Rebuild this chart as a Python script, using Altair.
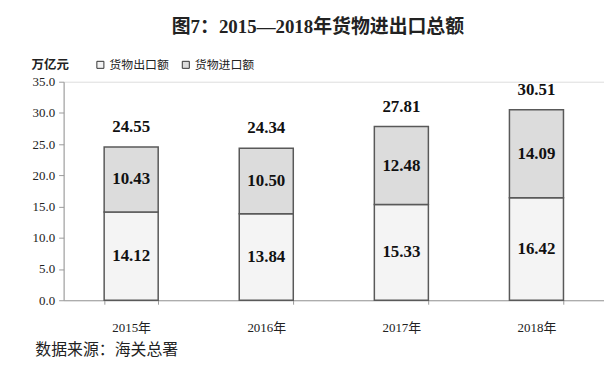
import altair as alt
import pandas as pd

years = ["2015年", "2016年", "2017年", "2018年"]
exports = [14.12, 13.84, 15.33, 16.42]
imports = [10.43, 10.50, 12.48, 14.09]
totals = [24.55, 24.34, 27.81, 30.51]
series = ["货物出口额", "货物进口额"]

rows = []
for i, y in enumerate(years):
    rows.append({"year": y, "type": series[0], "value": exports[i], "ord": 0,
                 "mid": exports[i] / 2, "label": f"{exports[i]:.2f}"})
    rows.append({"year": y, "type": series[1], "value": imports[i], "ord": 1,
                 "mid": exports[i] + imports[i] / 2, "label": f"{imports[i]:.2f}"})
df = pd.DataFrame(rows)
tot = pd.DataFrame({"year": years, "total": totals,
                    "label": [f"{t:.2f}" for t in totals]})

SERIF = "Liberation Serif, Noto Sans CJK SC"
CJK = "Noto Sans CJK SC"

xenc = alt.X("year:N", sort=years,
             scale=alt.Scale(paddingInner=0.6, paddingOuter=0.3),
             axis=alt.Axis(title="数据来源：海关总署", titleAnchor="start",
                           titleAlign="left", titleX=-29, titleY=50,
                           titleBaseline="middle", titleFont=CJK,
                           titleFontSize=16, titleFontWeight="normal",
                           titleColor="#222", labelAngle=0, labelFont=SERIF,
                           labelFontSize=13, labelColor="#222", labelPadding=17,
                           tickBand="extent", tickSize=4, tickColor="#9a9a9a",
                           domainColor="#9a9a9a"))

yaxis = alt.Axis(title="万亿元", titleAngle=0, titleX=-14, titleY=-17,
                 titleAlign="center", titleBaseline="middle", titleFont=CJK,
                 titleFontSize=12.5, titleFontWeight="bold", titleColor="#222",
                 values=[0, 5, 10, 15, 20, 25, 30, 35], format=".1f",
                 labelFont=SERIF, labelFontSize=13, labelColor="#222",
                 labelPadding=4, tickSize=5, tickColor="#9a9a9a",
                 domainColor="#9a9a9a", grid=False)
yscale = alt.Scale(domain=[0, 35], nice=False)

bars = alt.Chart(df).mark_bar(stroke="#595959", strokeWidth=1.5).encode(
    x=xenc,
    y=alt.Y("value:Q", stack="zero", scale=yscale, axis=yaxis),
    fill=alt.Fill("type:N", scale=alt.Scale(domain=series,
                                            range=["#f4f4f4", "#dcdcdc"]),
                  legend=alt.Legend(title=None, orient="none", legendX=31,
                                    legendY=-23, direction="horizontal",
                                    symbolType="square", symbolSize=50,
                                    symbolStrokeColor="#333",
                                    symbolStrokeWidth=1, labelFont=CJK,
                                    labelFontSize=12, labelColor="#222",
                                    columnPadding=10, labelOffset=3)),
    order=alt.Order("ord:Q", sort="ascending"),
)

seg = alt.Chart(df).mark_text(font=SERIF, fontSize=17, fontWeight="bold",
                              color="#111", baseline="middle").encode(
    x=alt.X("year:N", sort=years),
    y=alt.Y("mid:Q", scale=yscale, axis=yaxis),
    text="label:N",
)

top = alt.Chart(tot).mark_text(font=SERIF, fontSize=17, fontWeight="bold",
                               color="#111", baseline="middle", dy=-20).encode(
    x=alt.X("year:N", sort=years),
    y=alt.Y("total:Q", scale=yscale, axis=yaxis),
    text="label:N",
)

chart = alt.layer(bars, seg, top).properties(
    width=544, height=220,
    title=alt.Title("图7：2015—2018年货物进出口总额", font=SERIF, fontSize=19,
                    fontWeight="bold", color="#222", anchor="middle",
                    frame="group", dx=-16, offset=22),
    autosize=alt.AutoSizeParams(type="none"),
    padding={"left": 56, "top": 73, "right": 0, "bottom": 67},
).configure_view(stroke=None).configure(background="white")

chart.save("out.html", embed_options={"renderer": "svg", "actions": False})
